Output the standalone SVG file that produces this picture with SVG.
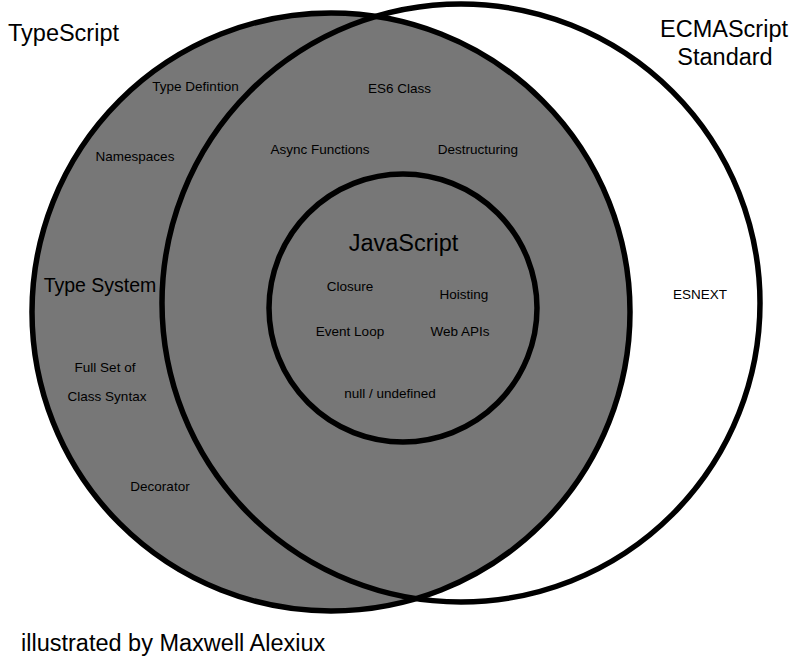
<svg xmlns="http://www.w3.org/2000/svg" width="801" height="664" viewBox="0 0 801 664">
<style>
text{font-family:"Liberation Sans",Arial,sans-serif;fill:#000}
.big{font-size:23.5px}
.mid{font-size:19.5px}
.sm{font-size:13.5px;text-anchor:middle}
.ring{stroke:#000;stroke-width:5.5}
</style>
<rect width="801" height="664" fill="#fff"/>
<g id="ecmascript-fill"><circle cx="461" cy="303" r="299" fill="#fff"/></g>
<g id="typescript">
<circle class="ring" cx="331" cy="312" r="299" fill="#777"/>
<text class="big" x="8" y="41">TypeScript</text>
<text class="sm" x="195.5" y="91">Type Defintion</text>
<text class="sm" x="135" y="161">Namespaces</text>
<text class="mid" x="100" y="292" text-anchor="middle">Type System</text>
<text class="sm" x="105" y="372">Full Set of</text>
<text class="sm" x="107" y="401">Class Syntax</text>
<text class="sm" x="160" y="491">Decorator</text>
</g>
<g id="ecmascript">
<circle class="ring" cx="461" cy="303" r="299" fill="none"/>
<text class="big" x="724" y="37" text-anchor="middle">ECMAScript</text>
<text class="big" x="725" y="65" text-anchor="middle">Standard</text>
<text class="sm" x="399.5" y="93">ES6 Class</text>
<text class="sm" x="320" y="154">Async Functions</text>
<text class="sm" x="478" y="154">Destructuring</text>
<text class="sm" x="700" y="299">ESNEXT</text>
</g>
<g id="javascript">
<circle class="ring" cx="403" cy="308" r="134" fill="none"/>
<text class="big" x="403.5" y="251" text-anchor="middle">JavaScript</text>
<text class="sm" x="350" y="291">Closure</text>
<text class="sm" x="464" y="299">Hoisting</text>
<text class="sm" x="350" y="336">Event Loop</text>
<text class="sm" x="460" y="336">Web APIs</text>
<text class="sm" x="390" y="398">null / undefined</text>
</g>
<g id="connectors"></g>
<g id="credit"><text class="big" x="21" y="651">illustrated by Maxwell Alexiux</text></g>
</svg>
